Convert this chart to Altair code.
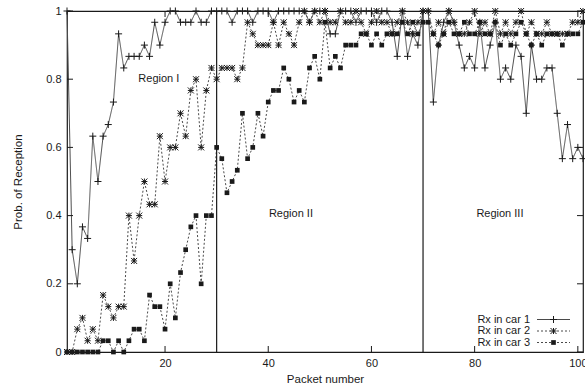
import altair as alt
import pandas as pd

# ---------------- data ----------------
packets = list(range(1, 102))

car1 = [1.0, 0.3, 0.2, 0.367, 0.333, 0.633, 0.5, 0.633, 0.667, 0.733,
        0.933, 0.833, 0.867, 0.867, 0.867, 0.9, 0.867, 0.967, 0.9, 0.967,
        1.0, 1.0, 0.967, 0.967, 0.967, 1.0, 0.967, 0.967, 1.0, 1.0,
        1.0, 1.0, 0.967, 1.0, 1.0, 1.0, 0.967, 1.0, 1.0, 1.0,
        0.967, 1.0, 1.0, 1.0, 1.0, 1.0, 1.0, 0.967, 1.0, 1.0,
        1.0, 0.933, 0.933, 1.0, 1.0, 1.0, 0.967, 1.0, 1.0, 1.0,
        0.967, 1.0, 1.0, 0.967, 0.867, 1.0, 0.867, 0.933, 0.9, 1.0,
        1.0, 0.733, 0.9, 0.967, 1.0, 0.967, 0.9, 0.833, 0.867, 0.833,
        0.967, 0.833, 0.9, 0.967, 0.8, 0.833, 0.8, 0.9, 0.867, 0.7,
        0.9, 0.8, 0.8, 0.833, 0.833, 0.7, 0.567, 0.667, 0.567, 0.6,
        0.567]

car2 = [0, 0, 0.067, 0.1, 0.033, 0.067, 0.033, 0.167, 0.133, 0.1,
        0.133, 0.133, 0.4, 0.267, 0.4, 0.5, 0.433, 0.433, 0.633, 0.5,
        0.6, 0.6, 0.7, 0.633, 0.767, 0.8, 0.6, 0.767, 0.833, 0.8,
        0.833, 0.833, 0.833, 0.8, 0.833, 0.967, 0.933, 0.9, 0.9, 0.9,
        0.967, 0.9, 0.967, 0.933, 0.9, 0.967, 1.0, 0.967, 1.0, 0.967,
        1.0, 0.967, 0.967, 1.0, 0.967, 0.967, 1.0, 0.967, 0.933, 0.967,
        1.0, 0.967, 0.967, 0.933, 0.967, 1.0, 0.967, 0.933, 0.967, 1.0,
        1.0, 0.933, 0.967, 0.933, 1.0, 0.967, 0.933, 0.933, 0.967, 1.0,
        0.933, 0.967, 0.933, 1.0, 0.933, 0.967, 0.933, 0.967, 1.0, 0.933,
        0.967, 0.933, 0.933, 0.967, 0.933, 0.933, 0.933, 0.933, 0.967, 0.967,
        1.0]

car3 = [0, 0, 0, 0, 0, 0, 0, 0.033, 0.033, 0,
        0.033, 0, 0.033, 0.067, 0.067, 0.033, 0.167, 0.133, 0.133, 0.067,
        0.2, 0.1, 0.233, 0.3, 0.367, 0.4, 0.2, 0.4, 0.4, 0.6,
        0.567, 0.467, 0.5, 0.533, 0.7, 0.567, 0.6, 0.7, 0.633, 0.733,
        0.767, 0.767, 0.833, 0.8, 0.733, 0.767, 0.733, 0.833, 0.867, 0.8,
        0.967, 0.833, 0.867, 0.833, 0.9, 0.9, 0.9, 0.933, 0.933, 0.9,
        0.933, 0.9, 0.933, 0.933, 0.933, 0.967, 0.933, 0.967, 0.933, 0.967,
        0.967, 0.933, 0.9, 0.933, 0.967, 0.933, 0.933, 0.967, 0.933, 0.933,
        0.967, 0.933, 0.933, 0.967, 0.9, 0.933, 0.9, 0.933, 0.967, 0.933,
        0.9, 0.933, 0.9, 0.933, 0.933, 0.933, 0.9, 0.933, 0.933, 0.933,
        0.967]

series_names = ["Rx in car 1", "Rx in car 2", "Rx in car 3"]
region_bounds = [30, 70]
region_labels = ["Region I", "Region II", "Region III"]
region_label_x = [18.8, 44.4, 84.9]
region_label_y = [0.8, 0.405, 0.405]
x_ticks = [20, 40, 60, 80, 100]
y_ticks = [0, 0.2, 0.4, 0.6, 0.8, 1.0]

# ---------------- style ----------------
W, H = 516, 341
FONT = "Liberation Sans"
INK = "#1a1a1a"
LINE = "#4a4a4a"

PLUS = "M-1,0L1,0M0,-1L0,1"
STAR = "M-1,-1L1,1M-1,1L1,-1M-1,0L1,0M0,-1L0,1"

styles = [
    dict(dash=[1, 0], shape=PLUS, filled=False, size=49),
    dict(dash=[2, 2], shape=STAR, filled=False, size=36),
    dict(dash=[2, 2], shape="square", filled=True, size=22),
]

xscale = alt.Scale(domain=[1, 101], nice=False, zero=False)
yscale = alt.Scale(domain=[0, 1], nice=False, zero=False)

xaxis = alt.Axis(values=x_ticks, ticks=False, domain=False, grid=False,
                 labelPadding=5, labelFontSize=11, labelFont=FONT, labelColor=INK,
                 title="Packet number", titleFont=FONT, titleFontSize=11.5,
                 titleFontWeight="normal", titleColor=INK, titlePadding=5)
yaxis = alt.Axis(values=y_ticks, ticks=False, domain=False, grid=False, format=".1~f",
                 labelPadding=6, labelFontSize=11, labelFont=FONT, labelColor=INK,
                 title="Prob. of Reception", titleFont=FONT, titleFontSize=11.5,
                 titleFontWeight="normal", titleColor=INK, titlePadding=22)


def X(field):
    return alt.X(field, scale=xscale, axis=xaxis)


def Y(field):
    return alt.Y(field, scale=yscale, axis=yaxis)


layers = []
series_values = [car1, car2, car3]
for i, (name, vals) in enumerate(zip(series_names, series_values)):
    st = styles[i]
    df = pd.DataFrame({"packet": packets, "prob": vals, "series": name})
    base = alt.Chart(df)
    line = base.mark_line(color=LINE, strokeWidth=1, strokeDash=st["dash"]).encode(
        x=X("packet:Q"), y=Y("prob:Q"))
    pts = base.mark_point(shape=st["shape"], filled=st["filled"], size=st["size"],
                          color=INK, strokeWidth=1, opacity=1).encode(
        x=X("packet:Q"), y=Y("prob:Q"))
    layers += [line, pts]

# region boundaries
bounds_df = pd.DataFrame({"b": region_bounds})
layers.append(alt.Chart(bounds_df).mark_rule(color=INK, strokeWidth=1.2).encode(
    x=X("b:Q")))

# region labels
reg_df = pd.DataFrame({"label": region_labels, "x": region_label_x, "y": region_label_y})
layers.append(alt.Chart(reg_df).mark_text(font=FONT, fontSize=11, color=INK,
                                          align="center", baseline="middle").encode(
    x=X("x:Q"), y=Y("y:Q"), text="label:N"))

# inward ticks (gnuplot style)
yt_df = pd.DataFrame({"v": y_ticks})
xt_df = pd.DataFrame({"v": x_ticks})
layers.append(alt.Chart(yt_df).mark_rule(color=INK, strokeWidth=1).encode(
    y=Y("v:Q"), x=alt.value(0), x2=alt.value(6)))
layers.append(alt.Chart(yt_df).mark_rule(color=INK, strokeWidth=1).encode(
    y=Y("v:Q"), x=alt.value(W - 6), x2=alt.value(W)))
layers.append(alt.Chart(xt_df).mark_rule(color=INK, strokeWidth=1).encode(
    x=X("v:Q"), y=alt.value(H - 6), y2=alt.value(H)))
layers.append(alt.Chart(xt_df).mark_rule(color=INK, strokeWidth=1).encode(
    x=X("v:Q"), y=alt.value(0), y2=alt.value(6)))

# legend (bottom right, gnuplot style: label then sample)
leg_y = [308.5, 320, 331.5]
for i, name in enumerate(series_names):
    st = styles[i]
    ldf = pd.DataFrame({"label": [name]})
    lb = alt.Chart(ldf)
    layers.append(lb.mark_text(font=FONT, fontSize=11, color=INK, align="right",
                               baseline="middle").encode(
        text="label:N", x=alt.value(463), y=alt.value(leg_y[i])))
    layers.append(lb.mark_rule(color=LINE, strokeWidth=1, strokeDash=st["dash"]).encode(
        x=alt.value(470), x2=alt.value(503), y=alt.value(leg_y[i])))
    layers.append(lb.mark_point(shape=st["shape"], filled=st["filled"], size=st["size"],
                                color=INK, strokeWidth=1, opacity=1).encode(
        x=alt.value(486.5), y=alt.value(leg_y[i])))

chart = alt.layer(*layers).properties(
    width=W, height=H,
    autosize=alt.AutoSizeParams(type="none"),
    padding={"left": 67, "top": 11, "right": 2, "bottom": 35},
    background="white",
).configure_view(stroke=INK, strokeWidth=1.2)

chart.save("out.html", embed_options={"renderer": "svg", "actions": False})
